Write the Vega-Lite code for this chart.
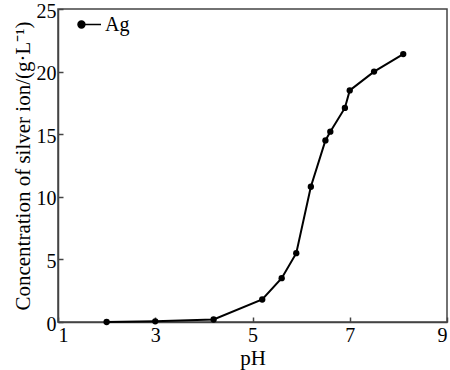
{
  "$schema": "https://vega.github.io/schema/vega-lite/v6.json",
  "width": 389,
  "height": 313,
  "autosize": {"type": "none"},
  "padding": {"left": 58, "top": 9, "right": 4, "bottom": 48},
  "background": "white",
  "config": {
    "font": "Liberation Serif",
    "view": {"stroke": "#444", "strokeWidth": 1.5}
  },
  "data": {
    "values": [
      {"pH": 2.0, "conc": 0.0, "series": "Ag"},
      {"pH": 3.0, "conc": 0.05, "series": "Ag"},
      {"pH": 4.2, "conc": 0.2, "series": "Ag"},
      {"pH": 5.2, "conc": 1.8, "series": "Ag"},
      {"pH": 5.6, "conc": 3.5, "series": "Ag"},
      {"pH": 5.9, "conc": 5.5, "series": "Ag"},
      {"pH": 6.2, "conc": 10.8, "series": "Ag"},
      {"pH": 6.5, "conc": 14.5, "series": "Ag"},
      {"pH": 6.6, "conc": 15.2, "series": "Ag"},
      {"pH": 6.9, "conc": 17.1, "series": "Ag"},
      {"pH": 7.0, "conc": 18.5, "series": "Ag"},
      {"pH": 7.5, "conc": 20.0, "series": "Ag"},
      {"pH": 8.1, "conc": 21.4, "series": "Ag"}
    ]
  },
  "mark": {"type": "line", "color": "black", "strokeWidth": 2, "point": {"filled": true, "size": 40, "color": "black"}},
  "encoding": {
    "x": {
      "field": "pH",
      "type": "quantitative",
      "scale": {"domain": [1, 9], "nice": false},
      "axis": {
        "values": [1, 3, 5, 7, 9], "tickSize": -5, "labelPadding": 8, "title": "pH", "titlePadding": 2,
        "grid": false, "domainColor": "#444", "domainWidth": 1.5, "tickColor": "#444", "tickWidth": 1.5,
        "labelFont": "Liberation Serif", "labelFontSize": 20, "labelColor": "black",
        "titleFont": "Liberation Serif", "titleFontSize": 21, "titleFontWeight": "normal", "titleColor": "black"
      }
    },
    "y": {
      "field": "conc",
      "type": "quantitative",
      "scale": {"domain": [0, 25], "nice": false},
      "axis": {
        "values": [0, 5, 10, 15, 20, 25], "tickSize": -5, "labelPadding": 7, "labelOffset": 2, "title": "Concentration of silver ion/(g·L⁻¹)", "titlePadding": 3,
        "grid": false, "domainColor": "#444", "domainWidth": 1.5, "tickColor": "#444", "tickWidth": 1.5,
        "labelFont": "Liberation Serif", "labelFontSize": 20, "labelColor": "black",
        "titleFont": "Liberation Serif", "titleFontSize": 21, "titleFontWeight": "normal", "titleColor": "black"
      }
    },
    "color": {
      "field": "series",
      "type": "nominal",
      "scale": {"range": ["black"]},
      "legend": {
        "title": null,
        "orient": "none",
        "legendX": 19,
        "legendY": 3,
        "symbolType": "M-1,0 A0.3,0.3 0 1,0 -0.4,0 A0.3,0.3 0 1,0 -1,0 Z M-0.4,0 L1,0",
        "symbolSize": 529,
        "symbolFillColor": "black",
        "symbolStrokeColor": "black",
        "symbolStrokeWidth": 1.5,
        "labelOffset": 3,
        "labelFont": "Liberation Serif",
        "labelFontSize": 20,
        "labelColor": "black"
      }
    }
  }
}
